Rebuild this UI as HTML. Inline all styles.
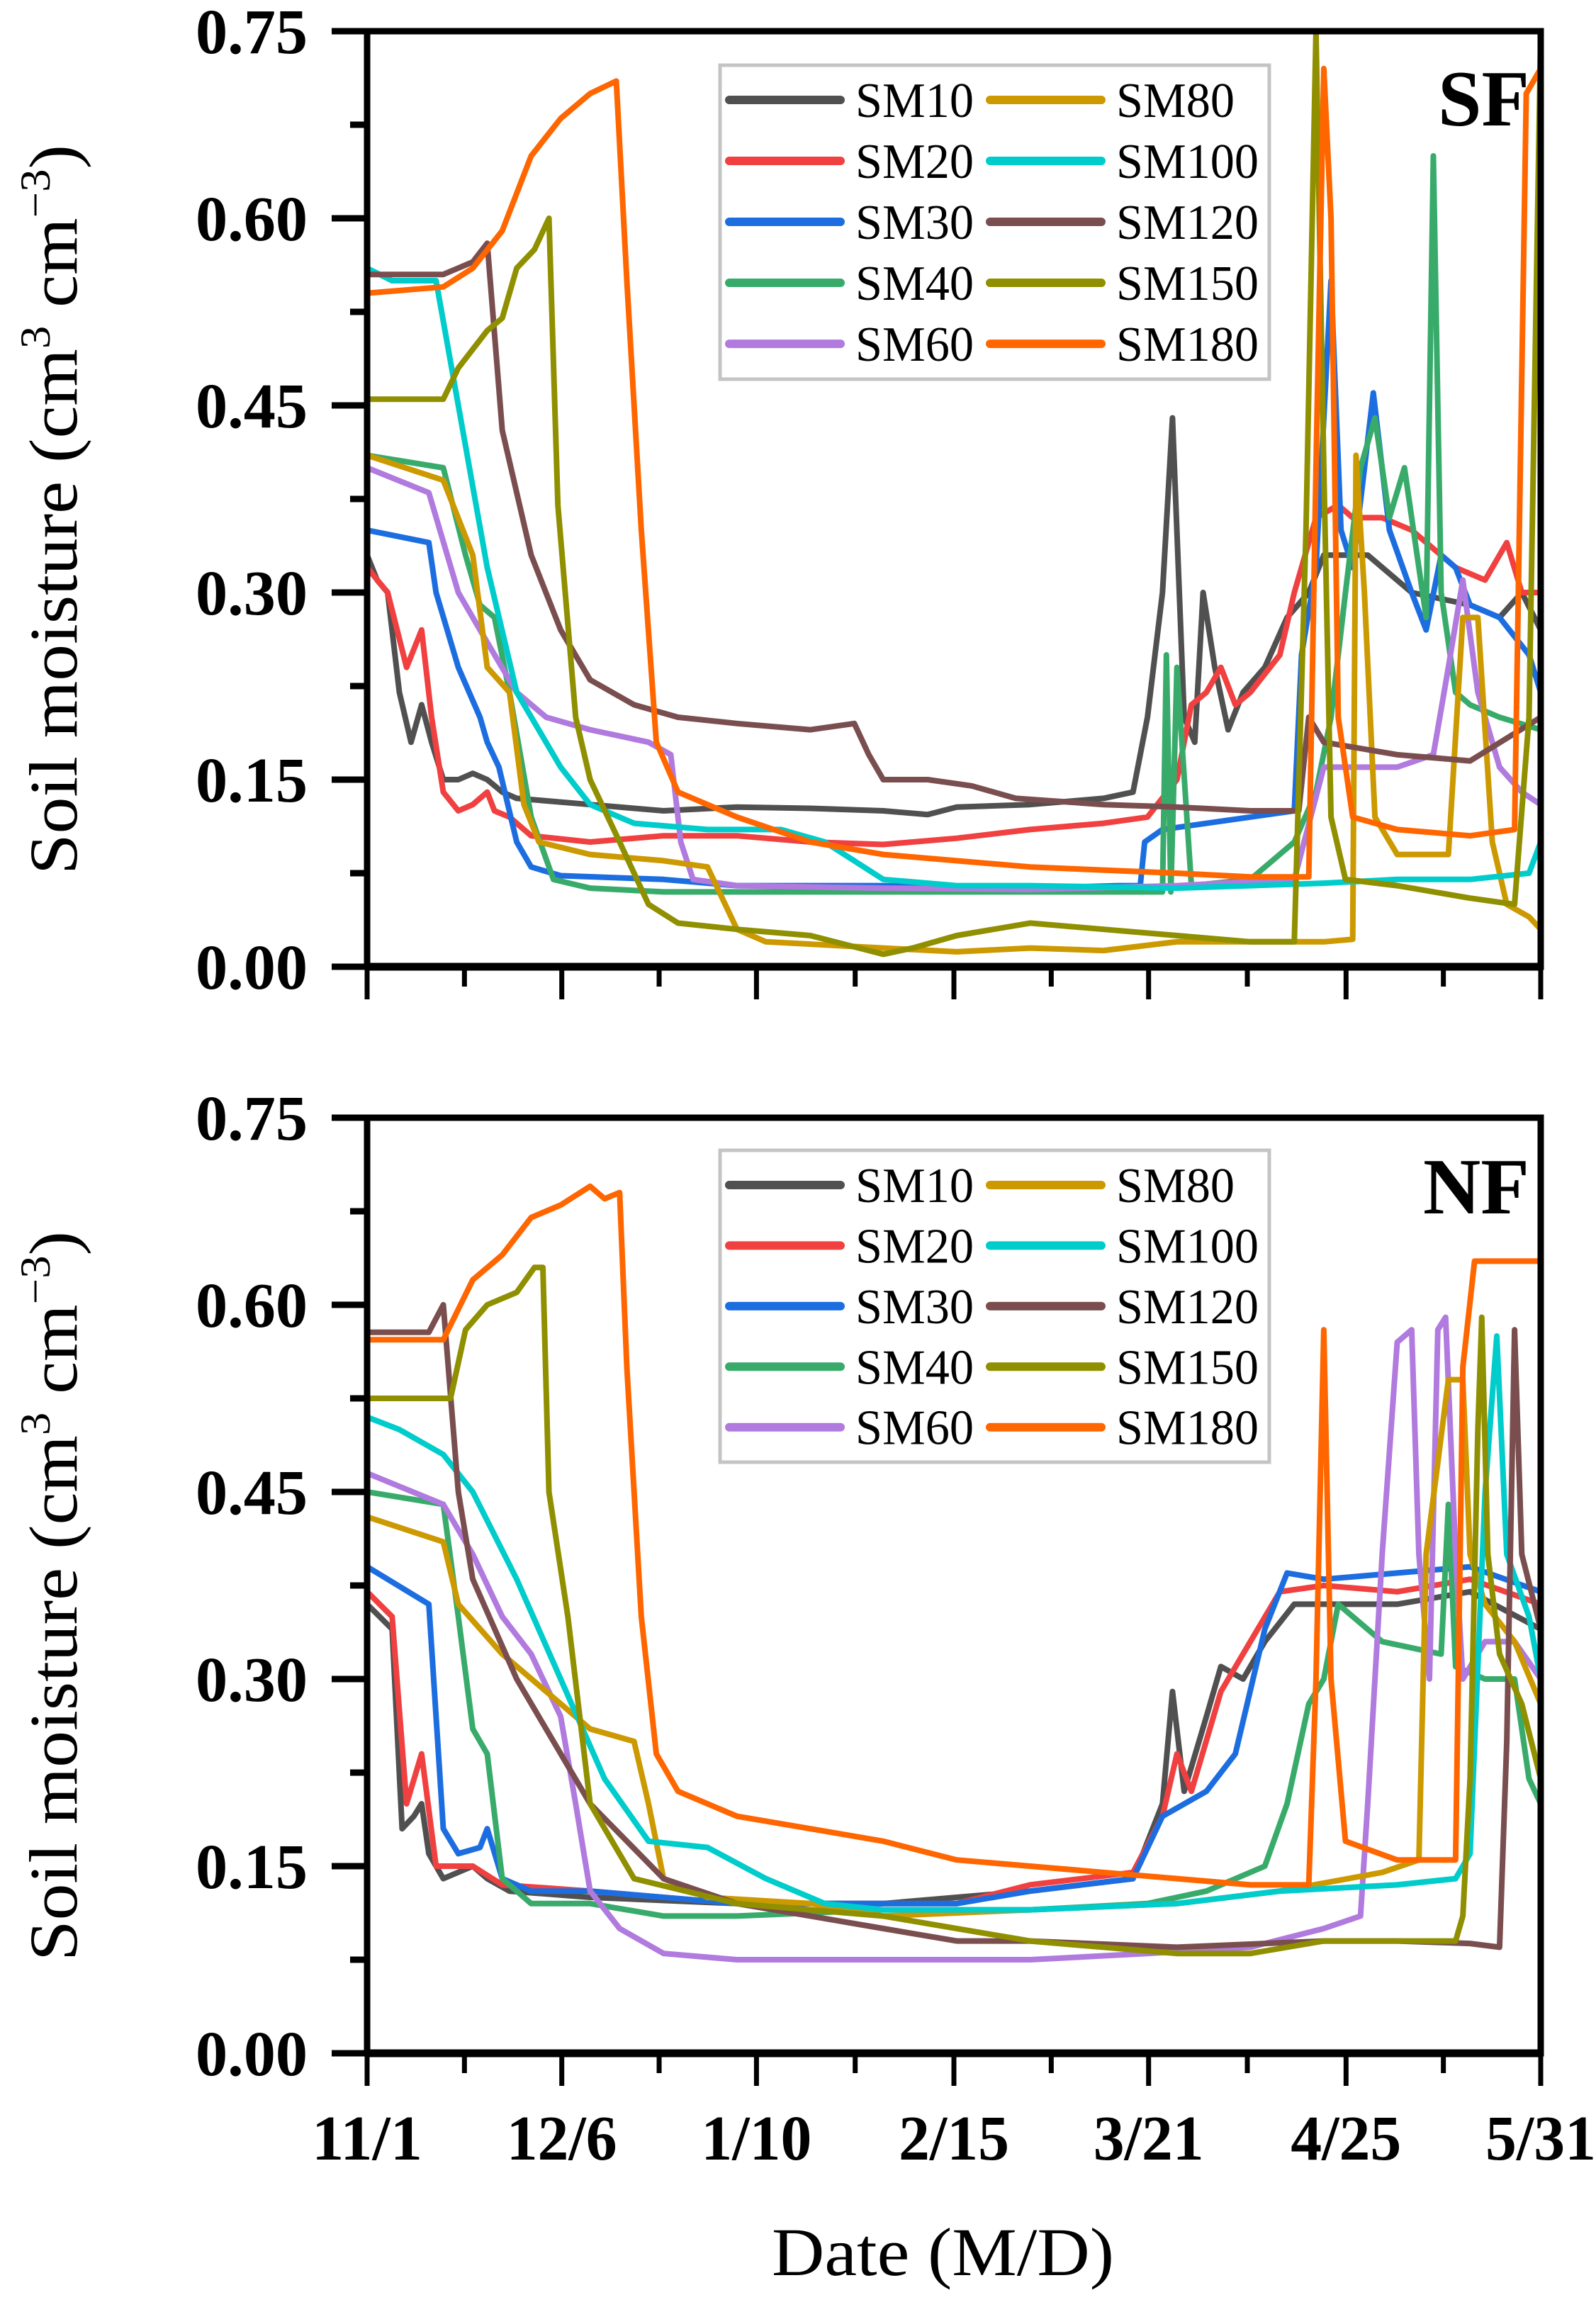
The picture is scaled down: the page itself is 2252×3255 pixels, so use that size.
<!DOCTYPE html>
<html><head><meta charset="utf-8"><style>
html,body{margin:0;padding:0;background:#fff;}
svg{display:block;}
</style></head><body>
<svg id="fig" xmlns="http://www.w3.org/2000/svg" width="2252" height="3255" viewBox="0 0 2252 3255">
<rect x="0" y="0" width="2252" height="3255" fill="#fff"/>
</svg>
<script>
// ---- data (day index from 11/1, value cm3 cm-3) ----
const seriesNames=["SM10","SM20","SM30","SM40","SM60","SM80","SM100","SM120","SM150","SM180"];
const seriesColors=["#505050","#f04040","#1c6ee0","#38ab6b","#b07ade","#cc9900","#00cccc","#7a4e4e","#8f8f00","#ff6600"];
const xTickLabels=["11/1","12/6","1/10","2/15","3/21","4/25","5/31"];
const yTickLabels=["0.00","0.15","0.30","0.45","0.60","0.75"];
const xTickDays=[0,35,70,105.5,140.5,176,211];
const yTickValues=[0,0.15,0.30,0.45,0.60,0.75];

// SF panel
const sf10d=[0,1.8,3.7,5.8,7.9,9.8,11.6,13.7,16.4,19,21.6,24.3,26.9,40.1,53.3,66.5,79.7,92.8,100.8,106,119.2,132.4,137.7,140.3,143,144.8,146.9,148.8,150.3,152.4,154.8,157.5,161.4,165.4,169.3,172,179.9,187.8,198.3,203.6,207.6,211];
const sf10v=[0.33,0.31,0.30,0.22,0.18,0.21,0.18,0.15,0.15,0.155,0.15,0.14,0.135,0.13,0.125,0.128,0.127,0.125,0.122,0.128,0.13,0.135,0.14,0.20,0.30,0.44,0.20,0.18,0.30,0.24,0.19,0.22,0.24,0.28,0.30,0.33,0.33,0.30,0.29,0.28,0.30,0.27];
const sf20d=[0,3.7,7.1,9.8,11.6,13.7,16.4,19,21.6,22.9,25.6,29.5,40.1,53.3,66.5,79.7,92.8,106,119.2,132.4,140.3,145.6,148.2,150.9,153.5,156.1,158.8,164.1,166.7,170.6,174.6,177.2,182.5,187.8,195.7,201,204.9,207.6,211];
const sf20v=[0.32,0.30,0.24,0.27,0.20,0.14,0.125,0.13,0.14,0.125,0.12,0.105,0.10,0.105,0.105,0.10,0.098,0.103,0.11,0.115,0.12,0.15,0.21,0.22,0.24,0.21,0.22,0.25,0.30,0.36,0.37,0.36,0.36,0.35,0.32,0.31,0.34,0.30,0.30];
const sf30d=[0,11.1,12.4,16.4,20.3,21.6,23.7,26.9,29.5,34.8,53.3,66.5,92.8,119.2,135,139,139.8,143,158.8,166.7,168,170.6,173.3,175.1,177.2,180.9,183.8,187.8,190.4,193.1,195.7,198.3,203.6,208.9,211];
const sf30v=[0.35,0.34,0.30,0.24,0.20,0.18,0.16,0.10,0.08,0.073,0.07,0.065,0.065,0.063,0.065,0.065,0.10,0.11,0.12,0.125,0.25,0.32,0.55,0.35,0.32,0.46,0.35,0.30,0.27,0.33,0.32,0.29,0.28,0.25,0.22];
const sf40d=[0,13.7,17.7,20.3,22.9,25.6,29.5,33.5,40.1,53.3,66.5,92.8,119.2,143,143.7,144.5,145.6,148.2,158.8,166.7,170.6,173.3,175.9,178.6,181.2,183.8,186.5,189.1,190.4,191.7,193.1,195.7,198.3,203.6,211];
const sf40v=[0.41,0.40,0.33,0.29,0.28,0.22,0.12,0.07,0.063,0.06,0.06,0.06,0.06,0.06,0.25,0.06,0.24,0.065,0.07,0.10,0.14,0.20,0.30,0.40,0.44,0.36,0.40,0.32,0.28,0.65,0.30,0.22,0.21,0.20,0.19];
const sf60d=[0,11.1,16.4,21.6,26.9,32.2,40.1,50.6,54.6,56.4,58.6,66.5,92.8,119.2,145.6,166.7,172,185.2,191.7,194.4,197,199.7,203.6,207.6,211];
const sf60v=[0.40,0.38,0.30,0.26,0.22,0.20,0.19,0.18,0.17,0.10,0.07,0.065,0.063,0.062,0.065,0.07,0.16,0.16,0.17,0.24,0.31,0.22,0.16,0.14,0.13];
const sf80d=[0,13.7,19,21.6,25.6,28.2,30.9,40.1,53.3,61.2,66.5,71.7,92.8,106,119.2,132.4,145.6,158.8,172,177.2,177.8,179.3,181.2,185.2,194.4,197,199.7,202.3,204.9,208.9,211];
const sf80v=[0.41,0.39,0.33,0.24,0.22,0.13,0.10,0.09,0.085,0.08,0.03,0.02,0.015,0.012,0.015,0.013,0.02,0.02,0.02,0.022,0.41,0.30,0.12,0.09,0.09,0.28,0.28,0.10,0.05,0.04,0.03];
const sf100d=[0,4.5,12.4,16.4,21.6,26.9,34.8,40.1,48,61.2,74.4,82.3,92.8,106,119.2,145.6,172,185.2,198.3,208.9,211];
const sf100v=[0.56,0.55,0.55,0.45,0.32,0.22,0.16,0.13,0.115,0.11,0.11,0.10,0.07,0.065,0.065,0.063,0.067,0.07,0.07,0.075,0.10];
const sf120d=[0,13.7,19,21.6,24.3,29.5,34.8,40.1,48,55.9,66.5,79.7,87.6,90.2,92.8,100.8,108.7,116.6,132.4,145.6,158.8,167.5,169.3,172,185.2,198.3,211];
const sf120v=[0.555,0.555,0.565,0.58,0.43,0.33,0.27,0.23,0.21,0.20,0.195,0.19,0.195,0.17,0.15,0.15,0.145,0.135,0.13,0.128,0.125,0.125,0.20,0.18,0.17,0.165,0.20];
const sf150d=[0,13.7,16.4,21.6,24.3,26.9,30.1,32.7,34.3,37.5,40.1,45.4,50.6,55.9,66.5,79.7,92.8,98.1,106,119.2,132.4,145.6,158.8,166.7,168.8,170.6,172,173.3,175.9,185.2,198.3,206.3,208.9,211];
const sf150v=[0.455,0.455,0.48,0.51,0.52,0.56,0.575,0.60,0.37,0.20,0.15,0.10,0.05,0.035,0.03,0.025,0.01,0.015,0.025,0.035,0.03,0.025,0.02,0.02,0.35,0.75,0.40,0.12,0.07,0.065,0.055,0.05,0.20,0.75];
const sf180d=[0,13.7,19,24.3,29.5,34.8,40.1,44.8,46.7,49.3,52,55.9,66.5,79.7,92.8,119.2,145.6,158.8,169.3,170.6,172,173.3,174.6,177.2,185.2,198.3,206.3,208.4,211];
const sf180v=[0.54,0.545,0.56,0.59,0.65,0.68,0.70,0.71,0.55,0.35,0.18,0.14,0.12,0.10,0.09,0.08,0.075,0.072,0.072,0.40,0.72,0.60,0.20,0.12,0.11,0.105,0.11,0.70,0.72];

// NF panel
const nf10d=[0,4.5,6.3,8.4,9.8,11.1,13.7,19,21.6,25.6,40.1,66.5,92.8,119.2,137.7,143,144.8,146.9,150.9,153.5,157.5,161.4,166.7,172,185.2,198.3,211];
const nf10v=[0.36,0.34,0.18,0.19,0.20,0.16,0.14,0.15,0.14,0.13,0.125,0.12,0.12,0.13,0.14,0.20,0.29,0.21,0.27,0.31,0.30,0.33,0.36,0.36,0.36,0.37,0.34];
const nf20d=[0,4.5,7.1,9.8,12.4,19,24.3,40.1,66.5,92.8,106,119.2,137.7,143,145.6,148.2,153.5,158.8,164.1,172,185.2,198.3,211];
const nf20v=[0.37,0.35,0.20,0.24,0.15,0.15,0.135,0.13,0.12,0.12,0.12,0.135,0.145,0.19,0.24,0.21,0.29,0.33,0.37,0.375,0.37,0.38,0.36];
const nf30d=[0,11.1,13.7,16.4,20.3,21.6,24.3,29.5,40.1,53.3,66.5,92.8,106,119.2,137.7,143,150.9,156.1,161.4,165.4,172,185.2,198.3,211];
const nf30v=[0.39,0.36,0.18,0.16,0.165,0.18,0.14,0.13,0.13,0.125,0.12,0.12,0.12,0.13,0.14,0.19,0.21,0.24,0.34,0.385,0.38,0.385,0.39,0.37];
const nf40d=[0,13.7,16.4,19,21.6,24.3,29.5,40.1,53.3,66.5,92.8,119.2,140.3,150.9,161.4,165.4,169.3,172,174.6,182.5,193.1,194.4,195.7,201,206.3,208.9,211];
const nf40v=[0.45,0.44,0.35,0.26,0.24,0.14,0.12,0.12,0.11,0.11,0.115,0.115,0.12,0.13,0.15,0.20,0.28,0.30,0.36,0.33,0.32,0.44,0.31,0.30,0.30,0.22,0.20];
const nf60d=[0,13.7,19,24.3,29.5,34.8,37.5,40.1,45.4,53.3,66.5,92.8,119.2,140.3,158.8,172,178.6,179.9,182.5,185.2,187.8,189.1,191,192.5,193.9,195.7,197,201,206.3,211];
const nf60v=[0.465,0.44,0.40,0.35,0.32,0.27,0.20,0.13,0.10,0.08,0.075,0.075,0.075,0.08,0.085,0.10,0.11,0.20,0.40,0.57,0.58,0.40,0.30,0.58,0.59,0.40,0.30,0.33,0.33,0.30];
const nf80d=[0,13.7,16.4,24.3,32.2,40.1,48,50.6,53.3,61.2,79.7,92.8,119.2,145.6,164.1,182.5,189.1,190.4,194.4,197,198.3,201,206.3,211];
const nf80v=[0.43,0.41,0.36,0.32,0.29,0.26,0.25,0.20,0.14,0.125,0.12,0.11,0.115,0.12,0.13,0.145,0.155,0.40,0.54,0.54,0.40,0.36,0.33,0.28];
const nf100d=[0,5.8,13.7,19,26.9,34.8,42.7,50.6,61.2,71.7,82.3,92.8,119.2,145.6,164.1,185.2,195.7,198.3,201,203.1,204.9,208.9,211];
const nf100v=[0.51,0.50,0.48,0.45,0.38,0.30,0.22,0.17,0.165,0.14,0.12,0.115,0.115,0.12,0.13,0.135,0.14,0.16,0.45,0.575,0.40,0.35,0.30];
const nf120d=[0,11.1,13.7,16.4,19,26.9,40.1,53.3,66.5,79.7,92.8,106,119.2,145.6,172,185.2,198.3,203.6,204.9,206.3,207.6,211];
const nf120v=[0.578,0.578,0.60,0.45,0.38,0.30,0.20,0.14,0.12,0.11,0.10,0.09,0.09,0.085,0.09,0.09,0.088,0.085,0.25,0.58,0.40,0.34];
const nf150d=[0,15,17.7,21.6,26.9,30.1,31.6,32.7,36.1,40.1,48,66.5,92.8,119.2,132.4,145.6,158.8,172,195.7,197,198.3,199.7,200.4,201.5,203.6,207.6,211];
const nf150v=[0.525,0.525,0.58,0.60,0.61,0.63,0.63,0.45,0.35,0.20,0.14,0.12,0.11,0.09,0.085,0.08,0.08,0.09,0.09,0.11,0.22,0.50,0.59,0.40,0.32,0.28,0.22];
const nf180d=[0,13.7,19,24.3,29.5,34.8,40.1,42.7,45.4,46.7,49.3,52,55.9,66.5,79.7,92.8,106,119.2,132.4,145.6,158.8,169.3,170.6,172,173.3,175.9,185.2,195.7,197,199.1,211];
const nf180v=[0.572,0.572,0.62,0.64,0.67,0.68,0.695,0.685,0.69,0.55,0.35,0.24,0.21,0.19,0.18,0.17,0.155,0.15,0.145,0.14,0.135,0.135,0.30,0.58,0.30,0.17,0.155,0.155,0.55,0.635,0.635];

const sfDays=[sf10d,sf20d,sf30d,sf40d,sf60d,sf80d,sf100d,sf120d,sf150d,sf180d];
const sfVals=[sf10v,sf20v,sf30v,sf40v,sf60v,sf80v,sf100v,sf120v,sf150v,sf180v];
const nfDays=[nf10d,nf20d,nf30d,nf40d,nf60d,nf80d,nf100d,nf120d,nf150d,nf180d];
const nfVals=[nf10v,nf20v,nf30v,nf40v,nf60v,nf80v,nf100v,nf120v,nf150v,nf180v];

const NS="http://www.w3.org/2000/svg";
const svg=document.getElementById('fig');
function mk(tag,attrs,parent){const e=document.createElementNS(NS,tag);for(const k in attrs)e.setAttribute(k,attrs[k]);(parent||svg).appendChild(e);return e;}

const X0=518,X1=2174,DMAX=211,VMAX=0.75;
const FONT='"Liberation Serif", serif';
function xScale(d){return X0+(d/DMAX)*(X1-X0);}

function panel(key,top,bottom,days,vals,tag,legTop,legBot,tagBaseline,tagLen){
  const g=mk('g',{});
  
  
  const yScale=v=>bottom-(v/VMAX)*(bottom-top);
  const cid='clip-'+key;
  const defs=mk('defs',{},g);
  const cp=mk('clipPath',{id:cid},defs);
  mk('rect',{x:X0,y:top-4,width:X1-X0,height:bottom-top+4},cp);
  const sg=mk('g',{'clip-path':'url(#'+cid+')'},g);
  for(let i=0;i<seriesNames.length;i++){
    let p='';
    for(let j=0;j<days[i].length;j++){p+=(j?'L':'M')+xScale(days[i][j]).toFixed(1)+' '+yScale(vals[i][j]).toFixed(1);}
    const path=mk('path',{d:p,fill:'none',stroke:seriesColors[i],'stroke-width':8,'stroke-linejoin':'round','stroke-linecap':'round'},sg);
    
    
  }
  const frame=mk('rect',{x:X0,y:top,width:X1-X0,height:bottom-top,fill:'none',stroke:'#000','stroke-width':9},g);
  
  
  mk('line',{x1:X0,y1:bottom,x2:X1,y2:bottom,stroke:'#000','stroke-width':11},g);
  for(let i=0;i<yTickValues.length;i++){
    const y=yScale(yTickValues[i]);
    mk('line',{x1:X0-50,y1:y,x2:X0,y2:y,stroke:'#000','stroke-width':9},g);
    if(i<yTickValues.length-1){const ym=yScale(yTickValues[i]+0.075);mk('line',{x1:X0-24,y1:ym,x2:X0,y2:ym,stroke:'#000','stroke-width':9},g);}
    const t=mk('text',{x:276,y:y+31,'font-family':FONT,'font-weight':'bold','font-size':90,textLength:158,lengthAdjust:'spacingAndGlyphs'},g);
    t.textContent=yTickLabels[i];
    
    
  }
  for(let i=0;i<xTickDays.length;i++){
    const x=xScale(xTickDays[i]);
    mk('line',{x1:x,y1:bottom,x2:x,y2:bottom+46,stroke:'#000','stroke-width':7},g);
    if(i<xTickDays.length-1){const xm=xScale((xTickDays[i]+xTickDays[i+1])/2);mk('line',{x1:xm,y1:bottom,x2:xm,y2:bottom+28,stroke:'#000','stroke-width':7},g);}
  }
  const lg=mk('g',{},g);
  
  
  mk('rect',{x:1016,y:legTop,width:775,height:legBot-legTop,fill:'#fff',stroke:'#c4c4c4','stroke-width':5},lg);
  const rowH=(legBot-legTop)/5.15;
  for(let i=0;i<seriesNames.length;i++){
    const col=i<5?0:1,row=i%5;
    const y=legTop+49+row*rowH;
    const lx=col?1391:1023;
    const e=mk('g',{},lg);
    
    
    mk('line',{x1:lx+6,y1:y,x2:lx+163,y2:y,stroke:seriesColors[i],'stroke-width':12,'stroke-linecap':'round'},e);
    const len=seriesNames[i].length===4?167:201;
    const t=mk('text',{x:lx+184,y:y+24,'font-family':FONT,'font-size':70,textLength:len,lengthAdjust:'spacingAndGlyphs'},e);
    t.textContent=seriesNames[i];
  }
  const tg=mk('text',{x:2158-tagLen,y:tagBaseline,'font-family':FONT,'font-weight':'bold','font-size':112,textLength:tagLen,lengthAdjust:'spacingAndGlyphs'},g);
  tg.textContent=tag;
  
  
  const cy=(top+bottom)/2+15;
  const yt=mk('text',{x:0,y:0,transform:'translate(108,'+cy+') rotate(-90)','text-anchor':'middle','font-family':FONT,'font-size':96,textLength:1030,lengthAdjust:'spacingAndGlyphs'},g);
  
  
  yt.innerHTML='Soil moisture (cm<tspan dy="-38" font-size="60">3</tspan><tspan dy="38"> cm</tspan><tspan dy="-38" font-size="60">−3</tspan><tspan dy="38">)</tspan>';
  return yScale;
}
panel('sf',44,1364,sfDays,sfVals,'SF',92,535,177,129);
panel('nf',1577,2897,nfDays,nfVals,'NF',1623,2063,1712,150);

for(let i=0;i<xTickLabels.length;i++){
  const t=mk('text',{x:xScale(xTickDays[i])-78,y:3047,'font-family':FONT,'font-weight':'bold','font-size':90,textLength:156,lengthAdjust:'spacingAndGlyphs'});
  t.textContent=xTickLabels[i];
  
  
}
const xt=mk('text',{x:1089,y:3210,'font-family':FONT,'font-size':96,textLength:483,lengthAdjust:'spacingAndGlyphs'});
xt.textContent='Date (M/D)';


</script>
</body></html>
